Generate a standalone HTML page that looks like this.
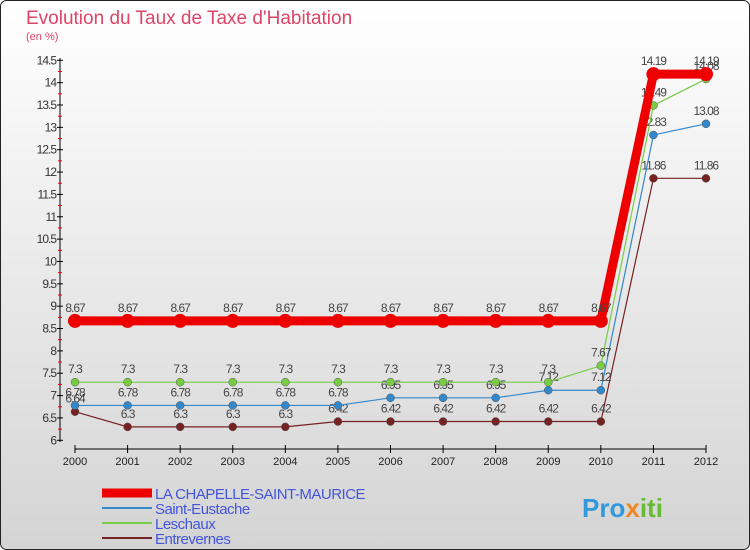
<!DOCTYPE html>
<html><head><meta charset="utf-8"><style>
body{margin:0;width:750px;height:550px;overflow:hidden;font-family:"Liberation Sans",sans-serif}
svg{display:block}
</style></head><body>
<svg width="750" height="550" xmlns="http://www.w3.org/2000/svg">
<defs><linearGradient id="bg" x1="0" y1="0" x2="0" y2="1"><stop offset="0" stop-color="#ffffff"/><stop offset="1" stop-color="#d4d4d4"/></linearGradient></defs>
<rect x="0.5" y="0.5" width="749" height="549" rx="6" fill="url(#bg)" stroke="#222"/>
<text x="26" y="24" font-size="19" fill="#dd4466">Evolution du Taux de Taxe d'Habitation</text>
<text x="26" y="40" font-size="11" fill="#dd4466">(en %)</text>
<g id="axes"></g><g id="series"></g><g id="legend"></g>
<text x="582" y="517" font-size="26" font-weight="bold" fill="#3399dd">Pro<tspan fill="#ee8822">x</tspan><tspan fill="#66bb33">iti</tspan></text>
</svg>
<script>
const years=[2000,2001,2002,2003,2004,2005,2006,2007,2008,2009,2010,2011,2012];
const yTicks=[6,6.5,7,7.5,8,8.5,9,9.5,10,10.5,11,11.5,12,12.5,13,13.5,14,14.5];
const names=["LA CHAPELLE-SAINT-MAURICE","Saint-Eustache","Leschaux","Entrevernes"];
const sLaChapelle=[8.67,8.67,8.67,8.67,8.67,8.67,8.67,8.67,8.67,8.67,8.67,14.19,14.19];
const sSaintEustache=[6.78,6.78,6.78,6.78,6.78,6.78,6.95,6.95,6.95,7.12,7.12,12.83,13.08];
const sLeschaux=[7.3,7.3,7.3,7.3,7.3,7.3,7.3,7.3,7.3,7.3,7.67,13.49,14.08];
const sEntrevernes=[6.64,6.3,6.3,6.3,6.3,6.42,6.42,6.42,6.42,6.42,6.42,11.86,11.86];
const NS="http://www.w3.org/2000/svg";
const X=i=>75+i*(706-75)/(years.length-1);
const Y=v=>440.3-(v-6)*(380/8.5);
function mk(t,a,p){const e=document.createElementNS(NS,t);for(const k in a)e.setAttribute(k,a[k]);p.appendChild(e);return e;}
const ax=document.getElementById('axes');
let l=mk('line',{x1:60,y1:58,x2:60,y2:442,stroke:'#000'},ax);


l=mk('line',{x1:75,y1:449,x2:706,y2:449,stroke:'#000'},ax);


yTicks.forEach((v,i)=>{
 const y=Y(v);
 mk('line',{x1:57,y1:y,x2:63,y2:y,stroke:'#000'},ax);
 if(i<yTicks.length-1) mk('line',{x1:58,y1:Y(v+0.25),x2:62,y2:Y(v+0.25),stroke:'#e00'},ax);
 const t=mk('text',{x:56,y:y+4,'font-size':12,fill:'#333','text-anchor':'end','letter-spacing':'-1'},ax);t.textContent=v;
 
 
});
years.forEach((yr,i)=>{
 const x=X(i);
 mk('line',{x1:x,y1:445,x2:x,y2:453,stroke:'#000'},ax);
 const t=mk('text',{x:x,y:465,'font-size':11,fill:'#222','text-anchor':'middle'},ax);t.textContent=yr;
 
 
});
const ser=[[sEntrevernes,'#772222',1.2,4],[sSaintEustache,'#3388cc',1.2,4],[sLeschaux,'#77cc44',1.2,4],[sLaChapelle,'#ee0000',9,7]];
const sg=document.getElementById('series');
const sn=['entrevernes','saint-eustache','leschaux','la-chapelle'];
ser.forEach(([d,c,w,r],k)=>{
 const g=mk('g',{},sg);
 
 
 mk('polyline',{points:d.map((v,i)=>X(i)+','+Y(v)).join(' '),fill:'none',stroke:c,'stroke-width':w},g);
 d.forEach((v,i)=>{
  const p=mk('circle',{cx:X(i),cy:Y(v),r:r,fill:c,stroke:w>2?'none':'#555','stroke-width':0.5},g);
  
  
  const t=mk('text',{x:X(i),y:Y(v)-9,'font-size':12,fill:'#444','text-anchor':'middle','letter-spacing':'-1'},g);t.textContent=v;
 });
});
const lg=document.getElementById('legend');
const lc=['#ee0000','#3388cc','#77cc44','#772222'];
names.forEach((n,i)=>{
 const y=493+i*15;
 const g=mk('g',{},lg);
 
 
 mk('line',{x1:102,y1:y,x2:152,y2:y,stroke:lc[i],'stroke-width':i?2:9},g);
 const t=mk('text',{x:155,y:y+6,'font-size':15,fill:'#4455dd','letter-spacing':'-0.5'},g);t.textContent=n;
});
</script>
</body></html>
